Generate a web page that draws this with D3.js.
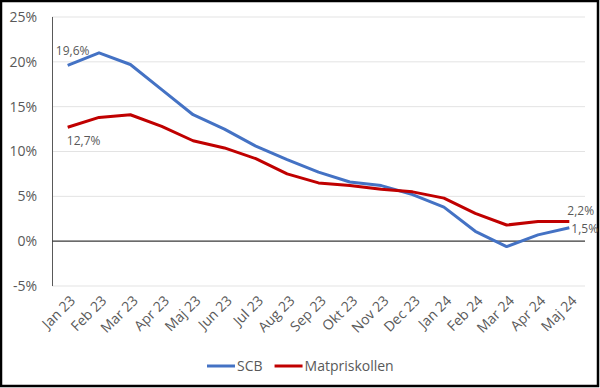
<!DOCTYPE html>
<html>
<head>
<meta charset="utf-8">
<script src="https://cdn.jsdelivr.net/npm/d3@7"></script>
<style>
  body { margin: 0; background: #fff; }
  svg { display: block; font-family: "Open Sans", "Noto Sans", sans-serif; }
</style>
</head>
<body>
<svg id="chart" width="600" height="388"></svg>
<script>
// months on the x axis
var months = ["Jan 23", "Feb 23", "Mar 23", "Apr 23", "Maj 23", "Jun 23", "Jul 23", "Aug 23",
  "Sep 23", "Okt 23", "Nov 23", "Dec 23", "Jan 24", "Feb 24", "Mar 24", "Apr 24", "Maj 24"];
var scbValues = [19.6, 21.0, 19.7, 16.9, 14.1, 12.5, 10.6, 9.1, 7.7, 6.6, 6.2, 5.2, 3.8, 1.1, -0.6, 0.7, 1.5];
var matprisValues = [12.7, 13.8, 14.1, 12.8, 11.2, 10.4, 9.2, 7.5, 6.5, 6.2, 5.8, 5.5, 4.8, 3.1, 1.8, 2.2, 2.2];
var yTicks = [-5, 0, 5, 10, 15, 20, 25];

var series = [
  { name: "SCB", values: scbValues, color: "#4472C4" },
  { name: "Matpriskollen", values: matprisValues, color: "#C00000" }
];

var svg = d3.select('#chart');
var textColor = "#595959";
var fmt = function (v) { return String(v.toFixed(1)).replace('.', ',') + '%'; };

// outer frame
svg.append('rect')
  .attr('x', 1).attr('y', 1).attr('width', 597).attr('height', 385)
  .attr('fill', '#fff').attr('stroke', '#000').attr('stroke-width', 2.5);

var x = d3.scaleBand().domain(months).range([52, 585]);
var y = d3.scaleLinear().domain([-5, 25]).range([286, 17]);
var cx = function (i) { return x(months[i]) + x.bandwidth() / 2; };

// gridlines
svg.append('g').selectAll('line').data(yTicks).enter().append('line')
  .attr('x1', 52).attr('x2', 585)
  .attr('y1', function (d) { return y(d); }).attr('y2', function (d) { return y(d); })
  .attr('stroke', '#e3e3e3').attr('stroke-width', 1);

// y tick labels
svg.append('g').selectAll('text').data(yTicks).enter().append('text')
  .attr('x', 37).attr('y', function (d) { return y(d); })
  .attr('dy', '0.35em').attr('text-anchor', 'end')
  .attr('fill', textColor).attr('font-size', 14)
  .text(function (d) { return d + '%'; });

// left axis line + zero line
svg.append('line').attr('x1', 52.5).attr('x2', 52.5).attr('y1', y(25)).attr('y2', y(-5))
  .attr('stroke', '#595959').attr('stroke-width', 1);
svg.append('line').attr('x1', 52).attr('x2', 585).attr('y1', y(0)).attr('y2', y(0))
  .attr('stroke', '#404040').attr('stroke-width', 1.2);

// x labels rotated
svg.append('g').selectAll('text').data(months).enter().append('text')
  .attr('transform', function (d, i) {
    return 'translate(' + (cx(i) + 5) + ',' + 298 + ') rotate(-45)';
  })
  .attr('text-anchor', 'end').attr('dy', '0.35em')
  .attr('fill', textColor).attr('font-size', 14)
  .text(function (d) { return d; });

// lines
var line = d3.line()
  .x(function (d, i) { return cx(i); })
  .y(function (d) { return y(d); });

series.forEach(function (s) {
  svg.append('path')
    .datum(s.values)
    .attr('d', line)
    .attr('fill', 'none')
    .attr('stroke', s.color)
    .attr('stroke-width', 3)
    .attr('stroke-linejoin', 'round');
});

// data labels
var last = months.length - 1;
var labels = [
  { i: 0, v: scbValues[0], dx: 5, dy: -15, anchor: 'middle' },
  { i: 0, v: matprisValues[0], dx: 16, dy: 14, anchor: 'middle' },
  { i: last, v: matprisValues[last], dx: -2, dy: -11, anchor: 'start' },
  { i: last, v: scbValues[last], dx: 2, dy: 1, anchor: 'start' }
];
svg.append('g').selectAll('text').data(labels).enter().append('text')
  .attr('x', function (d) { return cx(d.i) + d.dx; })
  .attr('y', function (d) { return y(d.v) + d.dy; })
  .attr('dy', '0.35em')
  .attr('text-anchor', function (d) { return d.anchor; })
  .attr('fill', textColor).attr('font-size', 12)
  .text(function (d) { return fmt(d.v); });

// legend
var legend = svg.append('g').attr('transform', 'translate(207,366)');
var lx = 0;
series.forEach(function (s) {
  legend.append('line').attr('x1', lx).attr('x2', lx + 28).attr('y1', 0).attr('y2', 0)
    .attr('stroke', s.color).attr('stroke-width', 3);
  var t = legend.append('text').attr('x', lx + 30).attr('y', 0).attr('dy', '0.35em')
    .attr('fill', textColor).attr('font-size', 14).text(s.name);
  lx += 30 + t.node().getComputedTextLength() + 12;
});
</script>
</body>
</html>
